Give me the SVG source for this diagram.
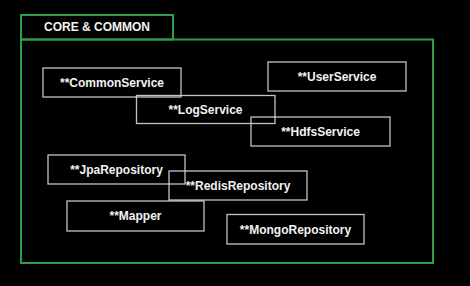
<svg xmlns="http://www.w3.org/2000/svg" width="470" height="286" viewBox="0 0 470 286">
<style>
.frame{fill:none;stroke:#2f9e49;stroke-width:2}
.box{fill:none;stroke:#d8d8d8;stroke-width:1.3;stroke-opacity:0.9}
.lbl{font-family:"Liberation Sans",Arial,sans-serif;font-weight:bold;font-size:12px;fill:#f2f2f2;text-anchor:middle}
</style>
<rect width="470" height="286" fill="#000"/>
<g id="core-common">
<rect class="frame" x="21" y="39.5" width="412" height="223.5"/>
<rect class="frame" x="21" y="15" width="152" height="24.5"/>
<text class="lbl" x="97" y="31" fill="#f2f2f2">CORE &amp; COMMON</text>
</g>
<g id="commonservice"><rect class="box" x="43" y="68" width="138" height="29"/><text class="lbl" x="112" y="87">**CommonService</text></g>
<g id="userservice"><rect class="box" x="268" y="62" width="138" height="29"/><text class="lbl" x="337" y="81">**UserService</text></g>
<g id="logservice"><rect class="box" x="136.5" y="95.5" width="138.5" height="28"/><text class="lbl" x="205.5" y="114">**LogService</text></g>
<g id="hdfsservice"><rect class="box" x="251" y="117" width="139" height="29"/><text class="lbl" x="320.5" y="136">**HdfsService</text></g>
<g id="jparepository"><rect class="box" x="48" y="155" width="137" height="29"/><text class="lbl" x="116.5" y="174">**JpaRepository</text></g>
<g id="redisrepository"><rect class="box" x="169" y="171" width="138" height="29"/><text class="lbl" x="238" y="190">**RedisRepository</text></g>
<g id="mapper"><rect class="box" x="67" y="201" width="137" height="30"/><text class="lbl" x="135.5" y="220">**Mapper</text></g>
<g id="mongorepository"><rect class="box" x="227" y="214.5" width="137" height="29.5"/><text class="lbl" x="295.5" y="234">**MongoRepository</text></g>
<g id="connectors"></g>
</svg>
